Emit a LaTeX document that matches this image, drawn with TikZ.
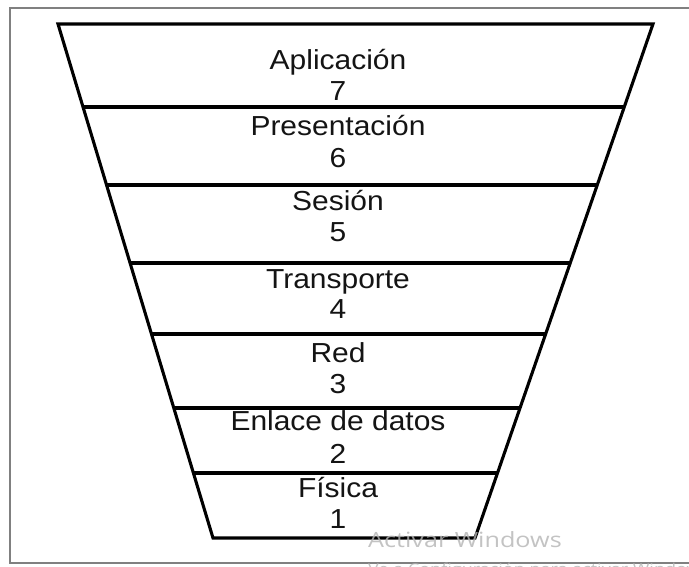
\documentclass[tikz,border=0pt]{standalone}
\usepackage{fontspec}
\setmainfont{Liberation Sans}
\newfontfamily\layerfont[FakeStretch=1.09]{Liberation Sans}
\newfontfamily\wmfont[FakeStretch=1.2]{Open Sans}
\usetikzlibrary{calc}
\definecolor{framegray}{HTML}{808080}
\definecolor{textdark}{HTML}{141414}
\definecolor{wmgray}{HTML}{B4B4B4}
\begin{document}
\begin{tikzpicture}[x=1pt,y=-1pt,
  layerline/.style={line width=3.1pt, draw=black},
  framestyle/.style={line width=1.8pt, draw=framegray},
  lbl/.style={anchor=base, inner sep=0pt, text=textdark, font=\layerfont\fontsize{27.5}{31}\selectfont},
  wm/.style={anchor=base west, inner sep=0pt, text=wmgray, text opacity=0.8, font=\wmfont\fontsize{21}{24}\selectfont},
  wmsmall/.style={anchor=base west, inner sep=0pt, text=wmgray, text opacity=0.8, font=\wmfont\fontsize{15}{18}\selectfont}]
\clip (0,0) rectangle (689,567);
\fill[white] (0,0) rectangle (689,567);
% outer frame
\coordinate (FTL) at (10,8);
\coordinate (FTR) at (690,8);
\coordinate (FBL) at (10,563);
\coordinate (FBR) at (690,563);
\draw[framestyle] (FTR) -- (FTL) -- (FBL) -- (FBR);
% funnel
\coordinate (TL) at (58,24);
\coordinate (TR) at (653,24);
\coordinate (BL) at (213,538);
\coordinate (BR) at (475,538);
\draw[layerline, line join=miter] (TL) -- (TR) -- (BR) -- (BL) -- cycle;
\foreach \t in {0.1615,0.3132,0.4650,0.6031,0.7471,0.8735}{
  \draw[layerline] ($(TL)!\t!(BL)$) -- ($(TR)!\t!(BR)$);
}
% labels
\node[lbl] (n7) at (338,70) {Aplicación};
\node[lbl] (d7) at (338,101) {7};
\node[lbl] (n6) at (338,136) {Presentación};
\node[lbl] (d6) at (338,168) {6};
\node[lbl] (n5) at (338,211) {Sesión};
\node[lbl] (d5) at (338,242) {5};
\node[lbl] (n4) at (338,288) {Transporte};
\node[lbl] (d4) at (338,318) {4};
\node[lbl] (n3) at (338,362) {Red};
\node[lbl] (d3) at (338,393) {3};
\node[lbl] (n2) at (338,430) {Enlace de datos};
\node[lbl] (d2) at (338,463) {2};
\node[lbl] (n1) at (338,497) {Física};
\node[lbl] (d1) at (338,528) {1};
% watermark
\node[wm] (wm1) at (368,547) {Activar Windows};
\node[wmsmall] (wm2) at (368,574) {Ve a Configuración para activar Windows.};
\end{tikzpicture}
\end{document}
